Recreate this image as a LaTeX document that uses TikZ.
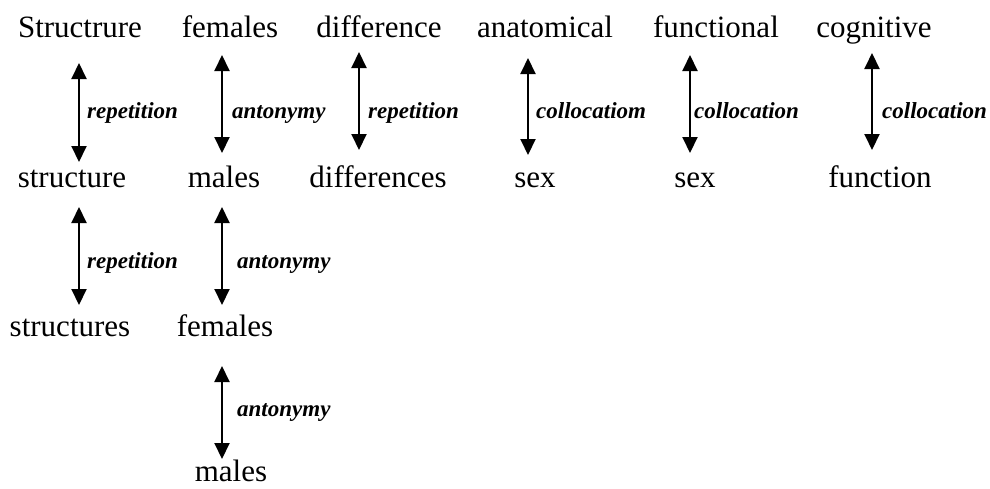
\documentclass[tikz,border=0pt]{standalone}
\usepackage{fontspec}
\setmainfont{Liberation Serif}
\usetikzlibrary{arrows.meta}
\tikzset{
  word/.style={anchor=base, inner sep=0pt, font=\fontsize{31}{36}\selectfont},
  rel/.style={anchor=base west, inner sep=0pt, font=\fontsize{23}{27}\selectfont\bfseries\itshape},
  link/.style={line width=2pt, {Triangle[width=15pt,length=16pt]}-{Triangle[width=15pt,length=16pt]}}
}
\begin{document}
\begin{tikzpicture}[x=1pt,y=-1pt]
\useasboundingbox (0,0) rectangle (990,488);
% first row of words
\node[word] (w11) at (80,37)  {Structrure};
\node[word] (w12) at (230,37) {females};
\node[word] (w13) at (379,37) {difference};
\node[word] (w14) at (545,37) {anatomical};
\node[word] (w15) at (716,37) {functional};
\node[word] (w16) at (874,37) {cognitive};
% second row
\node[word] (w21) at (72,187)  {structure};
\node[word] (w22) at (224,187) {males};
\node[word] (w23) at (378,187) {differences};
\node[word] (w24) at (535,187) {sex};
\node[word] (w25) at (695,187) {sex};
\node[word] (w26) at (880,187) {function};
% third row
\node[word] (w31) at (70,336)  {structures};
\node[word] (w32) at (225,336) {females};
% fourth row
\node[word] (w42) at (231,481) {males};
% arrow end points
\coordinate (a1t) at (79,63);   \coordinate (a1b) at (79,162);
\coordinate (a2t) at (222,55);  \coordinate (a2b) at (222,153);
\coordinate (a3t) at (359,52);  \coordinate (a3b) at (359,150);
\coordinate (a4t) at (528,58);  \coordinate (a4b) at (528,155);
\coordinate (a5t) at (690,55);  \coordinate (a5b) at (690,153);
\coordinate (a6t) at (872,53);  \coordinate (a6b) at (872,150);
\coordinate (b1t) at (79,207);  \coordinate (b1b) at (79,305);
\coordinate (b2t) at (222,207); \coordinate (b2b) at (222,305);
\coordinate (c2t) at (222,366); \coordinate (c2b) at (222,459);
% relations
\draw[link] (a1t) -- (a1b);
\draw[link] (a2t) -- (a2b);
\draw[link] (a3t) -- (a3b);
\draw[link] (a4t) -- (a4b);
\draw[link] (a5t) -- (a5b);
\draw[link] (a6t) -- (a6b);
\draw[link] (b1t) -- (b1b);
\draw[link] (b2t) -- (b2b);
\draw[link] (c2t) -- (c2b);
% relation labels
\node[rel] (l1) at (87,118)  {repetition};
\node[rel] (l2) at (232,118) {antonymy};
\node[rel] (l3) at (368,118) {repetition};
\node[rel] (l4) at (536,118) {collocatiom};
\node[rel] (l5) at (694,118) {collocation};
\node[rel] (l6) at (882,118) {collocation};
\node[rel] (l7) at (87,268)  {repetition};
\node[rel] (l8) at (237,268) {antonymy};
\node[rel] (l9) at (237,416) {antonymy};
\end{tikzpicture}
\end{document}
